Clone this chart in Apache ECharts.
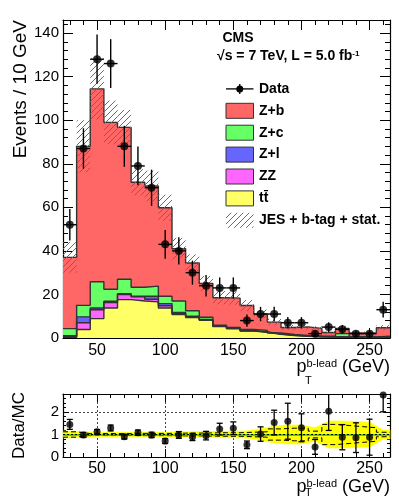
<!DOCTYPE html>
<html>
<head>
<meta charset="utf-8">
<title>Z+b leading b-jet pT</title>
<script src="https://cdn.jsdelivr.net/npm/echarts@6/dist/echarts.min.js"></script>
<style>
  html, body { margin: 0; padding: 0; background: #fff; }
  #chart { width: 399px; height: 498px; }
</style>
</head>
<body>
<div id="chart"></div>
<script>
// bins of 10 GeV, centres
var binCenters = [30, 40, 50, 60, 70, 80, 90, 100, 110, 120, 130, 140, 150, 160, 170, 180, 190, 200, 210, 220, 230, 240, 250, 260];
var binHalfWidth = 5;

// data
var dataCounts = [52, 87, 128, 126, 88, 79, 69, 43, 40, 30, 24, 23, 23, 8, 11, 11, 7, 7, 2, 5, 4, 2, 2, 13];
var dataErr = [7.2, 9.3, 11.3, 11.2, 9.4, 8.9, 8.3, 6.6, 6.3, 5.5, 4.9, 4.8, 4.8, 2.8, 3.3, 3.3, 2.6, 2.6, 1.4, 2.2, 2.0, 1.4, 1.4, 3.6];

// MC contributions (not cumulative)
var ttValues = [0.3, 3.9, 8.9, 13.8, 17.6, 17.0, 16.6, 13.8, 10.8, 9.4, 8.1, 5.2, 4.2, 3.2, 2.6, 1.7, 1.1, 0.8, 0.5, 0.4, 0.3, 0.3, 0.2, 0.3];
var zzValues = [0.3, 3.1, 4.1, 2.5, 2.4, 1.9, 1.2, 1.0, 0.4, 0.3, 0.2, 0.2, 0.2, 0.1, 0.1, 0.1, 0.1, 0.1, 0.1, 0.1, 0.1, 0.05, 0.05, 0.05];
var zlValues = [0.4, 2.7, 0.8, 0.6, 0.3, 0.3, 1.4, 1.0, 0.5, 0.3, 0.2, 0.2, 0.1, 0.1, 0.1, 0.1, 0.1, 0.05, 0.05, 0.05, 0.05, 0.05, 0.05, 0.05];
var zcValues = [3.3, 5.3, 12.0, 5.5, 6.7, 4.1, 4.6, 3.4, 5.3, 2.5, 1.0, 0.3, 0.4, 0.5, 0.7, 0.4, 0.3, 0.25, 0.25, 0.25, 1.55, 0.2, 0.2, 0.4];
var zbValues = [32.7, 73.0, 88.6, 76.6, 69.7, 48.2, 46.0, 40.6, 24.0, 21.9, 15.5, 12.6, 13.4, 11.0, 7.5, 5.0, 3.2, 3.9, 3.5, 1.7, 2.4, 1.7, 1.8, 3.9];
// JES + b-tag + stat. uncertainty (half width)
var mcErr = [7, 12, 14, 10, 8, 6, 7, 6, 5, 4, 3.5, 3, 3, 2.5, 2, 1.5, 1.2, 1.2, 1, 0.8, 1, 0.8, 0.7, 1.2];

// ratio panel
var ratioValues = [1.45, 0.98, 1.12, 1.29, 0.90, 1.08, 0.98, 0.71, 0.98, 0.89, 0.95, 1.24, 1.28, 0.54, 1.02, 1.53, 1.59, 1.30, 0.45, 2.03, 0.88, 0.86, 0.88, 2.76];
var ratioErr = [0.22, 0.11, 0.10, 0.13, 0.10, 0.12, 0.12, 0.11, 0.15, 0.16, 0.19, 0.26, 0.28, 0.17, 0.32, 0.55, 0.8, 0.62, 0.33, 0.85, 0.56, 0.66, 0.8, 0.75];
var ratioBand = [0.15, 0.12, 0.1, 0.1, 0.1, 0.1, 0.1, 0.1, 0.12, 0.12, 0.13, 0.14, 0.15, 0.16, 0.25, 0.38, 0.42, 0.42, 0.3, 0.6, 0.6, 0.58, 0.55, 0.2];
var ratioJes = [0.12, 0.04, 0.04, 0.04, 0.04, 0.05, 0.05, 0.05, 0.06, 0.06, 0.07, 0.08, 0.08, 0.1, 0.12, 0.25, 0.28, 0.28, 0.15, 0.45, 0.4, 0.35, 0.3, 0.1];

var xMin = 25, xMax = 265;
var mainMax = 146, ratioMax = 2.8;

var colors = { zb: '#ff6666', zc: '#66ff66', zl: '#6666ff', zz: '#ff66ff', tt: '#ffff66' };
var FONT = '"Liberation Sans", Arial, Helvetica, sans-serif';

function stepPoints(vals) {
    var pts = vals.map(function (v, i) { return [binCenters[i] - binHalfWidth, v]; });
    pts.push([binCenters[vals.length - 1] + binHalfWidth, vals[vals.length - 1]]);
    return pts;
}
function addArrays() {
    var arrs = arguments;
    return binCenters.map(function (c, i) {
        var s = 0;
        for (var k = 0; k < arrs.length; k++) s += arrs[k][i];
        return s;
    });
}

// cumulative tops of the stack
var cumTt = ttValues.slice();
var cumZz = addArrays(ttValues, zzValues);
var cumZl = addArrays(ttValues, zzValues, zlValues);
var cumZc = addArrays(ttValues, zzValues, zlValues, zcValues);
var mcTotal = addArrays(ttValues, zzValues, zlValues, zcValues, zbValues);

// band segments for the ratio uncertainty (edge points + bin centres)
var bandX = [xMin].concat(binCenters, [xMax]);
var bandW = [ratioBand[0]].concat(ratioBand, [ratioBand[ratioBand.length - 1]]);
var bandSegments = [];
for (var i = 0; i < bandX.length - 1; i++) {
    bandSegments.push([bandX[i], bandW[i], bandX[i + 1], bandW[i + 1]]);
}

function hatchCanvas() {
    var c = document.createElement('canvas');
    c.width = 6; c.height = 6;
    var g = c.getContext('2d');
    g.strokeStyle = '#6a6a6a';
    g.lineWidth = 1;
    g.beginPath();
    g.moveTo(0, 6); g.lineTo(6, 0);
    g.moveTo(-1, 1); g.lineTo(1, -1);
    g.moveTo(5, 7); g.lineTo(7, 5);
    g.stroke();
    return c;
}
var hatch = { image: hatchCanvas(), repeat: 'repeat' };

function hatchItem(params, api) {
    var x = api.value(0), t = api.value(1), e = api.value(2);
    var cs = params.coordSys;
    var p0 = api.coord([x - binHalfWidth, t + e]);
    var p1 = api.coord([x + binHalfWidth, Math.max(t - e, 0)]);
    var top = Math.max(p0[1], cs.y);
    return { type: 'rect', shape: { x: p0[0], y: top, width: p1[0] - p0[0], height: p1[1] - top },
             style: { fill: hatch } };
}
function bandItem(params, api) {
    var x0 = api.value(0), w0 = api.value(1), x1 = api.value(2), w1 = api.value(3);
    var a = api.coord([x0, 1 + w0]), b = api.coord([x1, 1 + w1]);
    var c = api.coord([x1, 1 - w1]), d = api.coord([x0, 1 - w0]);
    return { type: 'polygon', shape: { points: [a, b, c, d] },
             style: { fill: '#ffff00', stroke: '#ffff00', lineWidth: 0.6 } };
}
function mainErrItem(params, api) {
    var x = api.value(0), y = api.value(1), e = api.value(2);
    var cs = params.coordSys;
    var c = api.coord([x, y]);
    var hi = Math.max(api.coord([x, y + e])[1], cs.y);
    var lo = api.coord([x, Math.max(y - e, 0)])[1];
    var l = api.coord([x - binHalfWidth, y])[0], r = api.coord([x + binHalfWidth, y])[0];
    var st = { stroke: '#000', lineWidth: 1.4 };
    return { type: 'group', children: [
        { type: 'line', shape: { x1: c[0], y1: hi, x2: c[0], y2: lo }, style: st },
        { type: 'line', shape: { x1: l, y1: c[1], x2: r, y2: c[1] }, style: st }
    ] };
}
function ratioErrItem(params, api) {
    var x = api.value(0), y = api.value(1), e = api.value(2);
    var cs = params.coordSys;
    var px = api.coord([x, y])[0];
    var hi = Math.max(api.coord([x, y + e])[1], cs.y);
    var lo = Math.min(api.coord([x, y - e])[1], cs.y + cs.height);
    var st = { stroke: '#000', lineWidth: 1.3 };
    var kids = [{ type: 'line', shape: { x1: px, y1: hi, x2: px, y2: lo }, style: st },
                { type: 'line', shape: { x1: px - 3, y1: lo, x2: px + 3, y2: lo }, style: st }];
    if (y + e < ratioMax) kids.push({ type: 'line', shape: { x1: px - 3, y1: hi, x2: px + 3, y2: hi }, style: st });
    return { type: 'group', children: kids };
}

function histSeries(name, cumVals, color) {
    return {
        name: name, type: 'line', step: 'end', xAxisIndex: 0, yAxisIndex: 0,
        symbol: 'none', data: stepPoints(cumVals), z: 3,
        lineStyle: { color: '#333', width: 1.4 },
        areaStyle: { color: color, opacity: 1, origin: 'start' }
    };
}

function xAxisCfg(grid, pos, withLabels, tickLen, minorLen, split) {
    return {
        type: 'value', gridIndex: grid, position: pos, min: xMin, max: xMax,
        axisLine: { show: true, onZero: false, lineStyle: { color: '#000', width: 1.2 } },
        axisTick: { show: true, inside: true, length: tickLen, lineStyle: { color: '#000' } },
        minorTick: { show: true, splitNumber: 5, length: minorLen, lineStyle: { color: '#000' } },
        axisLabel: {
            show: withLabels, color: '#000', fontFamily: FONT, fontSize: 16, margin: 5,
            formatter: function (v) { return v % 50 === 0 ? String(v) : ''; }
        },
        splitLine: { show: split, lineStyle: { color: '#444', type: [2, 2], width: 1 } }
    };
}

var axisNameRich = {
    p: { fontFamily: FONT, fontSize: 18, color: '#000' },
    s: { fontFamily: FONT, fontSize: 11, color: '#000', verticalAlign: 'top' },
    g: { fontFamily: FONT, fontSize: 18, color: '#000' }
};

var mainX = xAxisCfg(0, 'bottom', true, 10, 5, false);
mainX.name = '{p|p}{s|b-lead}{g| (GeV)}';
mainX.nameLocation = 'end';
mainX.nameGap = 0;
mainX.nameMoveOverlap = false;
mainX.nameTextStyle = { align: 'right', verticalAlign: 'top', padding: [20, 0, 0, 0], rich: axisNameRich };

var ratioX = xAxisCfg(1, 'bottom', true, 8, 4, true);
ratioX.axisLabel.margin = 4;
ratioX.name = '{p|p}{s|b-lead}{g| (GeV)}';
ratioX.nameLocation = 'end';
ratioX.nameGap = 0;
ratioX.nameMoveOverlap = false;
ratioX.nameTextStyle = { align: 'right', verticalAlign: 'top', padding: [21, 0, 0, 0], rich: axisNameRich };

function yAxisCfg(grid, pos, withLabels, min, max, interval, tickLen, minorLen, split) {
    return {
        type: 'value', gridIndex: grid, position: pos, min: min, max: max, interval: interval,
        axisLine: { show: true, onZero: false, lineStyle: { color: '#000', width: 1.2 } },
        axisTick: { show: true, inside: true, length: tickLen, lineStyle: { color: '#000' } },
        minorTick: { show: true, splitNumber: 5, length: minorLen, lineStyle: { color: '#000' } },
        axisLabel: {
            show: withLabels, color: '#000', fontFamily: FONT, fontSize: 15, margin: 4,
            formatter: function (v) { return Math.abs(v / interval - Math.round(v / interval)) < 1e-6 ? String(v) : ''; }
        },
        splitLine: { show: split, lineStyle: { color: '#444', type: [2, 2], width: 1 } }
    };
}

var mainY = yAxisCfg(0, 'left', true, 0, mainMax, 20, 10, 5, false);
mainY.name = 'Events / 10 GeV';
mainY.nameLocation = 'end';
mainY.nameRotate = 90;
mainY.nameGap = 0;
mainY.nameMoveOverlap = false;
mainY.nameTextStyle = { fontFamily: FONT, fontSize: 19, color: '#000', align: 'right', verticalAlign: 'bottom', padding: [0, 0, 33, 0] };

var ratioY = yAxisCfg(1, 'left', true, 0, ratioMax, 1, 6, 3, true);
ratioY.name = 'Data/MC';
ratioY.nameLocation = 'middle';
ratioY.nameGap = 35;
ratioY.nameMoveOverlap = false;
ratioY.nameTextStyle = { fontFamily: FONT, fontSize: 17, color: '#000', verticalAlign: 'bottom' };

// legend drawn as graphic
var legendLeft = 226, legendTextLeft = 259, boxW = 27.5, boxH = 15, rowPitch = 21.9, firstBoxTop = 103.3;
var legendBoxes = [
    { label: 'Z+b', color: colors.zb },
    { label: 'Z+c', color: colors.zc },
    { label: 'Z+l', color: colors.zl },
    { label: 'ZZ', color: colors.zz },
    { label: 'tt\u0304', color: colors.tt },
    { label: 'JES + b-tag + stat.', color: null }
];
var legendFont = 'bold 14px ' + FONT;
var dataRowY = firstBoxTop - rowPitch + boxH / 2;
var graphics = [
    { type: 'text', x: 222.5, y: 38.5, z: 10, style: { text: 'CMS', font: 'bold 14px ' + FONT, fill: '#000', verticalAlign: 'middle' } },
    { type: 'text', x: 217, y: 56.5, z: 10, style: {
        text: '\u221As = 7 TeV, L = 5.0 fb{sup|-1}', font: 'bold 14px ' + FONT, fill: '#000', verticalAlign: 'middle',
        rich: { sup: { fontFamily: FONT, fontWeight: 'bold', fontSize: 8, verticalAlign: 'top', fill: '#000' } }
    } },
    { type: 'line', z: 10, shape: { x1: legendLeft, y1: dataRowY, x2: legendLeft + boxW, y2: dataRowY }, style: { stroke: '#000', lineWidth: 1.3 } },
    { type: 'line', z: 10, shape: { x1: legendLeft + boxW / 2, y1: dataRowY - 5, x2: legendLeft + boxW / 2, y2: dataRowY + 5 }, style: { stroke: '#000', lineWidth: 1.3 } },
    { type: 'circle', z: 10, shape: { cx: legendLeft + boxW / 2, cy: dataRowY, r: 3.5 }, style: { fill: '#000' } },
    { type: 'text', z: 10, x: legendTextLeft, y: dataRowY, style: { text: 'Data', font: legendFont, fill: '#000', verticalAlign: 'middle' } },
    // subscript T of the axis titles
    { type: 'text', z: 10, x: 305, y: 381, style: { text: 'T', font: '11px ' + FONT, fill: '#000', verticalAlign: 'middle' } },
    { type: 'text', z: 10, x: 305, y: 493, style: { text: 'T', font: '11px ' + FONT, fill: '#000', verticalAlign: 'middle' } }
];
legendBoxes.forEach(function (item, k) {
    var top = firstBoxTop + k * rowPitch;
    graphics.push({ type: 'rect', z: 10, shape: { x: legendLeft, y: top, width: boxW, height: boxH },
        style: item.color ? { fill: item.color, stroke: '#333', lineWidth: 1 } : { fill: hatch } });
    graphics.push({ type: 'text', z: 10, x: legendTextLeft, y: top + boxH / 2, style: {
        text: item.label, font: legendFont, fill: '#000', verticalAlign: 'middle' } });
});

var chart = echarts.init(document.getElementById('chart'), null, { renderer: 'canvas' });
var option = {
    animation: false,
    backgroundColor: '#fff',
    grid: [
        { left: 63, right: 9, top: 20, height: 318, outerBoundsMode: 'none', containLabel: false },
        { left: 63, right: 9, top: 394, height: 63, outerBoundsMode: 'none', containLabel: false }
    ],
    xAxis: [
        mainX,
        xAxisCfg(0, 'top', false, 10, 5, false),
        ratioX,
        xAxisCfg(1, 'top', false, 8, 4, false)
    ],
    yAxis: [
        mainY,
        yAxisCfg(0, 'right', false, 0, mainMax, 20, 10, 5, false),
        ratioY,
        yAxisCfg(1, 'right', false, 0, ratioMax, 1, 6, 3, false)
    ],
    graphic: graphics,
    series: [
        histSeries('Z+b', mcTotal, colors.zb),
        histSeries('Z+c', cumZc, colors.zc),
        histSeries('Z+l', cumZl, colors.zl),
        histSeries('ZZ', cumZz, colors.zz),
        histSeries('tt\u0304', cumTt, colors.tt),
        {
            name: 'JES + b-tag + stat.', type: 'custom', xAxisIndex: 0, yAxisIndex: 0, z: 4,
            renderItem: hatchItem, encode: { x: 0, y: 1 },
            data: binCenters.map(function (c, i) { return [c, mcTotal[i], mcErr[i]]; })
        },
        {
            name: 'Data errors', type: 'custom', xAxisIndex: 0, yAxisIndex: 0, z: 5,
            renderItem: mainErrItem, encode: { x: 0, y: 1 },
            data: binCenters.map(function (c, i) { return [c, dataCounts[i], dataErr[i]]; })
        },
        {
            name: 'Data', type: 'scatter', xAxisIndex: 0, yAxisIndex: 0, z: 6,
            symbol: 'circle', symbolSize: 8, itemStyle: { color: '#000' },
            data: binCenters.map(function (c, i) { return [c, dataCounts[i]]; })
        },
        // ratio panel
        {
            name: 'MC uncertainty', type: 'custom', xAxisIndex: 2, yAxisIndex: 2, z: 2,
            renderItem: bandItem, encode: { x: [0, 2], y: 1 },
            data: bandSegments
        },
        {
            name: 'jesUp', type: 'line', step: 'end', symbol: 'none', xAxisIndex: 2, yAxisIndex: 2, z: 3,
            data: stepPoints(ratioJes.map(function (w) { return 1 + w; })),
            lineStyle: { color: '#000', width: 1, type: [5, 3] }
        },
        {
            name: 'jesDown', type: 'line', step: 'end', symbol: 'none', xAxisIndex: 2, yAxisIndex: 2, z: 3,
            data: stepPoints(ratioJes.map(function (w) { return 1 - w; })),
            lineStyle: { color: '#000', width: 1, type: [5, 3] },
            markLine: {
                silent: true, symbol: 'none', label: { show: false },
                data: [
                    { yAxis: 1, lineStyle: { color: '#22bb22', width: 1.5, type: 'solid' } },
                    { yAxis: 1, lineStyle: { color: '#000', width: 1, type: [2, 2] } }
                ]
            }
        },
        {
            name: 'Ratio errors', type: 'custom', xAxisIndex: 2, yAxisIndex: 2, z: 5,
            renderItem: ratioErrItem, encode: { x: 0, y: 1 },
            data: binCenters.map(function (c, i) { return [c, ratioValues[i], ratioErr[i]]; })
        },
        {
            name: 'Data/MC', type: 'scatter', xAxisIndex: 2, yAxisIndex: 2, z: 6,
            symbol: 'circle', symbolSize: 7, itemStyle: { color: '#000' },
            data: binCenters.map(function (c, i) { return [c, ratioValues[i]]; })
        }
    ]
};
chart.setOption(option);
</script>
</body>
</html>
